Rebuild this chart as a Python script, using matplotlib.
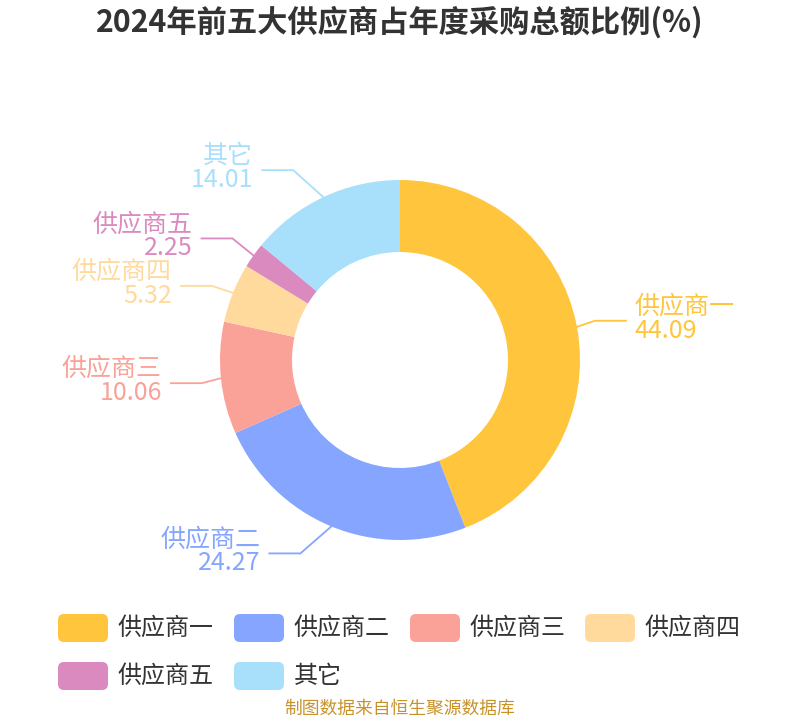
import numpy as np
import matplotlib.pyplot as plt
from matplotlib.patches import FancyBboxPatch

plt.rcParams['font.family'] = ['Noto Sans CJK SC', 'DejaVu Sans']

names = ["供应商一", "供应商二", "供应商三", "供应商四", "供应商五", "其它"]
shares = [44.09, 24.27, 10.06, 5.32, 2.25, 14.01]
colors = ["#FFC53D", "#85A5FF", "#FAA297", "#FFDA9C", "#DB8AC0", "#A8DFFA"]
title = "2024年前五大供应商占年度采购总额比例(%)"
source = "制图数据来自恒生聚源数据库"

# label line elbows (offset from slice edge, px) after spreading
elbow_dx = [18, -31, -19, -21, -21, -30]
elbow_dy = [-6, 27, 5, -7, -17, -27]

W, H = 800, 720
cx, cy, R = 400, 360, 180


def Y(y):
    return H - y


fig = plt.figure(figsize=(8, 7.2), dpi=100)
ax = fig.add_axes([0, 0, 1, 1])

wedges, _ = ax.pie(shares, colors=colors, startangle=90, counterclock=False,
                   radius=R, center=(cx, Y(cy)),
                   wedgeprops=dict(width=R * 0.4, linewidth=0))
ax.set_xlim(0, W)
ax.set_ylim(0, H)
ax.set_aspect('equal')
ax.axis('off')

for i, w in enumerate(wedges):
    mid = np.deg2rad((w.theta1 + w.theta2) / 2.0)
    ex = cx + R * np.cos(mid)
    ey = cy - R * np.sin(mid)
    bx = ex + elbow_dx[i]
    by = ey + elbow_dy[i]
    side = 1 if np.cos(mid) > 0 else -1
    hx = bx + side * 31
    ax.plot([ex, bx, hx], [Y(ey), Y(by), Y(by)], color=colors[i], lw=1.3,
            solid_joinstyle='miter')
    tx = hx + side * 9
    ha = 'left' if side > 0 else 'right'
    ax.text(tx, Y(by - 14), names[i], color=colors[i], fontsize=18,
            ha=ha, va='center')
    ax.text(tx, Y(by + 10), f"{shares[i]:.2f}", color=colors[i], fontsize=18,
            ha=ha, va='center')

# legend
col_x = [58, 234, 410, 585]
row_y = [628, 676]
for i, name in enumerate(names):
    x0 = col_x[i % 4]
    y0 = row_y[i // 4]
    box = FancyBboxPatch((x0 + 4, Y(y0) - 10), 42, 20,
                         boxstyle="round,pad=4,rounding_size=6",
                         facecolor=colors[i], edgecolor='none')
    ax.add_patch(box)
    ax.text(x0 + 60, Y(y0), name, color="#333333", fontsize=17.3,
            ha='left', va='center')

ax.text(W / 2, Y(22), title, color="#333333", fontsize=21.8, fontweight='bold',
        ha='center', va='center')
ax.text(W / 2, Y(709), source, color="#C8922A", fontsize=12.8,
        ha='center', va='center')

fig.savefig("out.png", dpi=100)
